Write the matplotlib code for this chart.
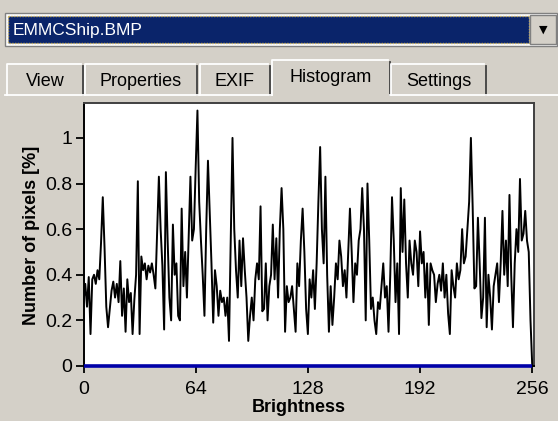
import matplotlib
matplotlib.use('Agg')
import matplotlib.pyplot as plt
from matplotlib.patches import Rectangle
import numpy as np

plt.rcParams['font.family'] = ['Liberation Sans', 'DejaVu Sans']

# histogram of brightness, % of pixels per level
counts = [
    0.28, 0.36, 0.26, 0.39, 0.14, 0.38, 0.40, 0.36, 0.42, 0.38, 0.54, 0.74, 0.52, 0.26, 0.17, 0.25,
    0.33, 0.37, 0.30, 0.36, 0.28, 0.46, 0.22, 0.34, 0.15, 0.38, 0.28, 0.32, 0.14, 0.29, 0.40, 0.81,
    0.14, 0.48, 0.42, 0.45, 0.38, 0.44, 0.41, 0.45, 0.40, 0.34, 0.58, 0.83, 0.60, 0.44, 0.16, 0.85,
    0.55, 0.30, 0.20, 0.62, 0.40, 0.45, 0.22, 0.20, 0.69, 0.35, 0.50, 0.30, 0.57, 0.83, 0.55, 0.60,
    0.87, 1.12, 0.72, 0.55, 0.40, 0.22, 0.60, 0.90, 0.67, 0.45, 0.19, 0.42, 0.35, 0.22, 0.33, 0.28,
    0.30, 0.22, 0.30, 0.11, 0.55, 1.00, 0.60, 0.42, 0.30, 0.55, 0.35, 0.56, 0.42, 0.30, 0.11, 0.22,
    0.30, 0.20, 0.38, 0.45, 0.38, 0.70, 0.24, 0.25, 0.45, 0.20, 0.35, 0.40, 0.62, 0.38, 0.56, 0.30,
    0.60, 0.78, 0.60, 0.15, 0.35, 0.28, 0.30, 0.35, 0.25, 0.15, 0.45, 0.35, 0.55, 0.69, 0.50, 0.25,
    0.14, 0.38, 0.30, 0.42, 0.25, 0.45, 0.72, 0.96, 0.60, 0.45, 0.83, 0.40, 0.15, 0.35, 0.18, 0.30,
    0.45, 0.38, 0.55, 0.48, 0.35, 0.42, 0.30, 0.50, 0.69, 0.50, 0.28, 0.45, 0.40, 0.55, 0.60, 0.78,
    0.60, 0.20, 0.80, 0.55, 0.25, 0.30, 0.20, 0.14, 0.28, 0.25, 0.35, 0.45, 0.30, 0.35, 0.15, 0.40,
    0.74, 0.55, 0.28, 0.45, 0.14, 0.78, 0.50, 0.73, 0.45, 0.30, 0.55, 0.45, 0.40, 0.55, 0.50, 0.35,
    0.59, 0.45, 0.50, 0.30, 0.45, 0.18, 0.45, 0.42, 0.40, 0.28, 0.36, 0.40, 0.33, 0.45, 0.30, 0.40,
    0.23, 0.14, 0.42, 0.35, 0.30, 0.45, 0.38, 0.42, 0.60, 0.45, 0.48, 0.60, 0.72, 1.00, 0.70, 0.34,
    0.35, 0.65, 0.45, 0.21, 0.30, 0.65, 0.17, 0.40, 0.30, 0.16, 0.35, 0.40, 0.45, 0.28, 0.45, 0.68,
    0.40, 0.55, 0.35, 0.75, 0.40, 0.17, 0.45, 0.60, 0.50, 0.82, 0.55, 0.58, 0.68, 0.55, 0.50, 0.20,
]
xticks = [0, 64, 128, 192, 256]
yticks = [0, 0.2, 0.4, 0.6, 0.8, 1]
yticklabels = ['0', '0.2', '0.4', '0.6', '0.8', '1']
tabs = ['View', 'Properties', 'EXIF', 'Histogram', 'Settings']
filename = 'EMMCShip.BMP'

W, H = 558, 421
BG = '#d4d0c8'
fig = plt.figure(figsize=(W / 100, H / 100), dpi=100, facecolor=BG)

# window chrome drawn in pixel coordinates
ui = fig.add_axes([0, 0, 1, 1], zorder=-1)
ui.set_xlim(0, W)
ui.set_ylim(H, 0)
ui.axis('off')
ui.add_patch(Rectangle((0, 0), W, H, facecolor=BG, edgecolor='none'))

# combo box
ui.add_patch(Rectangle((5, 13), 552, 33, facecolor='white', edgecolor='#808080', lw=1))
ui.add_patch(Rectangle((8, 16), 521, 27, facecolor='#0a246a', edgecolor='#c8b060',
                       lw=1, linestyle=(0, (1, 1))))
ui.text(13, 30, filename, color='white', fontsize=12.5, va='center', ha='left')
ui.add_patch(Rectangle((530, 15), 26, 29, facecolor=BG, edgecolor='#808080', lw=1))
ui.text(543, 30, '\u25bc', color='black', fontsize=8, va='center', ha='center',
        family='DejaVu Sans')

# tabs
tab_edges = [(7, 83), (85, 197), (200, 270), (272, 390), (391, 486)]
selected = 3
for i, (name, (l, r)) in enumerate(zip(tabs, tab_edges)):
    top = 60 if i == selected else 64
    ui.plot([l, l, r - 2], [95, top, top], color='white', lw=1.3)
    ui.plot([r, r], [top + 2, 95], color='#404040', lw=1.3)
    ui.text((l + r) / 2, 78 if i == selected else 81, name, fontsize=13,
            ha='center', va='center', color='black')
# page border
ui.plot([5, tab_edges[selected][0]], [95, 95], color='white', lw=1.3)
ui.plot([tab_edges[selected][1], W], [95, 95], color='white', lw=1.3)

# histogram axes
ax_l, ax_r, ax_t, ax_b = 83.5, 534, 103, 366
ax = fig.add_axes([ax_l / W, (H - ax_b) / H, (ax_r - ax_l) / W, (ax_b - ax_t) / H])
ax.set_facecolor('white')

x = np.arange(len(counts))
xs = np.append(x, len(counts))
ys = np.append(counts, 0)
ax.plot(xs, ys, color='black', lw=1.4, zorder=3)
ax.hlines(0, x[0], xs[-1], color='#0000a8', lw=2.6, zorder=4, clip_on=False)

ax.set_xlim(0, 257)
ax.set_ylim(0, 1.153)
ax.set_xticks(xticks)
ax.set_xticklabels([str(t) for t in xticks])
ax.set_yticks(yticks)
ax.set_yticklabels(yticklabels)
ax.tick_params(axis='x', length=5, width=1.3, pad=6, labelsize=14)
ax.tick_params(axis='y', length=6, width=1.3, pad=2, labelsize=14)
for s in ax.spines.values():
    s.set_linewidth(1.4)
    s.set_color('black')
ax.spines['right'].set_color('#404040')
ax.spines['top'].set_color('#404040')

ax.text((299 - ax_l) / (ax_r - ax_l), -(407 - ax_b) / (ax_b - ax_t), 'Brightness',
        transform=ax.transAxes, ha='center', va='center', fontsize=13, fontweight='bold')
ax.text((32 - ax_l) / (ax_r - ax_l), (ax_b - 235) / (ax_b - ax_t), 'Number of pixels [%]',
        transform=ax.transAxes, ha='center', va='center', rotation=90,
        fontsize=13, fontweight='bold')

plt.savefig('out.png', dpi=100, facecolor=BG)
